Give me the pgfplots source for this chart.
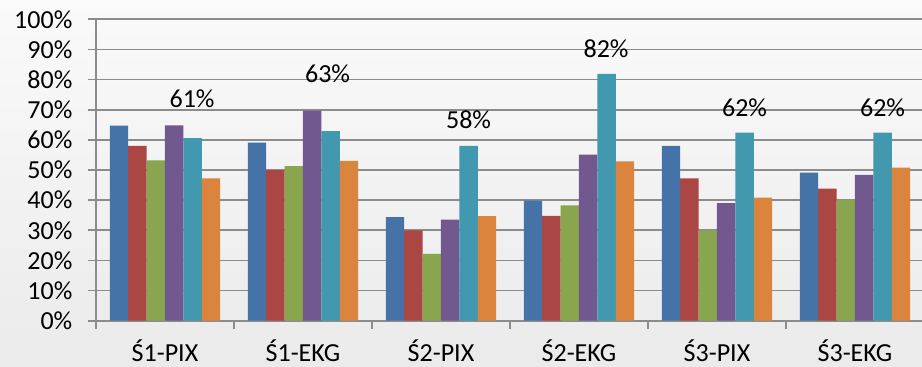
\documentclass[border=0pt]{standalone}
\usepackage{fontspec}
\setmainfont{Carlito}
\usepackage{pgfplots}
\usepackage{pgfplotstable}
\pgfplotsset{compat=1.18}
\definecolor{cA}{HTML}{4572A7}
\definecolor{cB}{HTML}{AA4643}
\definecolor{cC}{HTML}{89A54E}
\definecolor{cD}{HTML}{71588F}
\definecolor{cE}{HTML}{4198AF}
\definecolor{cF}{HTML}{DB843D}
\definecolor{gridgray}{HTML}{8C8C8C}
\pgfplotstableread{
x a b c d e f
0 64.7 58.0 53.2 64.8 60.6 47.2
1 59.1 50.0 51.3 69.7 62.9 53.0
2 34.4 30.0 22.2 33.5 58.0 34.7
3 39.8 34.8 38.3 55.1 81.9 52.9
4 58.0 47.2 30.0 39.0 62.4 40.8
5 49.1 43.8 40.1 48.4 62.4 50.8
}\datatable
\pgfplotstableread{
x y lab
0.196 73.8 61\%
1.178 81.8 63\%
2.200 66.8 58\%
3.196 90.4 82\%
4.200 70.8 62\%
5.200 70.8 62\%
}\labtable
\begin{document}
\begin{tikzpicture}
\useasboundingbox (0pt,0pt) rectangle (461pt,183pt);
\shade[top color=white!98!black, bottom color=white!92!black] (0pt,0pt) rectangle (461pt,183pt);
\begin{axis}[
  at={(48pt,22.65pt)}, anchor=south west,
  scale only axis, width=414pt, height=150.7pt,
  xmin=-0.5, xmax=5.5, ymin=0, ymax=100,
  axis lines*=left,
  axis line style={color=gridgray, line width=0.9pt},
  bar width=9.2pt,
  ymajorgrids, grid style={color=gridgray, line width=0.9pt},
  tick align=outside, major tick length=4pt,
  tick style={color=gridgray, line width=0.9pt},
  ytick={0,10,...,100},
  yticklabels={0\%,10\%,20\%,30\%,40\%,50\%,60\%,70\%,80\%,90\%,100\%},
  xtick={-0.5,0.5,...,5.5},
  x tick label as interval,
  xticklabels={Ś1-PIX,Ś1-EKG,Ś2-PIX,Ś2-EKG,Ś3-PIX,Ś3-EKG},
  xticklabel style={yshift=-2pt},
  yticklabel style={xshift=-4.3pt},
  tick label style={font=\fontsize{13}{15}\selectfont, text=black},
]
\addplot[ybar, bar shift=-23pt, fill=cA, draw=none] table[x=x, y=a] {\datatable};
\addplot[ybar, bar shift=-13.8pt, fill=cB, draw=none] table[x=x, y=b] {\datatable};
\addplot[ybar, bar shift=-4.6pt, fill=cC, draw=none] table[x=x, y=c] {\datatable};
\addplot[ybar, bar shift=4.6pt, fill=cD, draw=none] table[x=x, y=d] {\datatable};
\addplot[ybar, bar shift=13.8pt, fill=cE, draw=none] table[x=x, y=e] {\datatable};
\addplot[ybar, bar shift=23pt, fill=cF, draw=none] table[x=x, y=f] {\datatable};
\addplot[only marks, mark=none, nodes near coords, point meta=explicit symbolic,
  nodes near coords style={font=\fontsize{13}{15}\selectfont, text=black, inner sep=0pt, anchor=center}]
  table[x=x, y=y, meta=lab] {\labtable};
\end{axis}
\end{tikzpicture}
\end{document}
